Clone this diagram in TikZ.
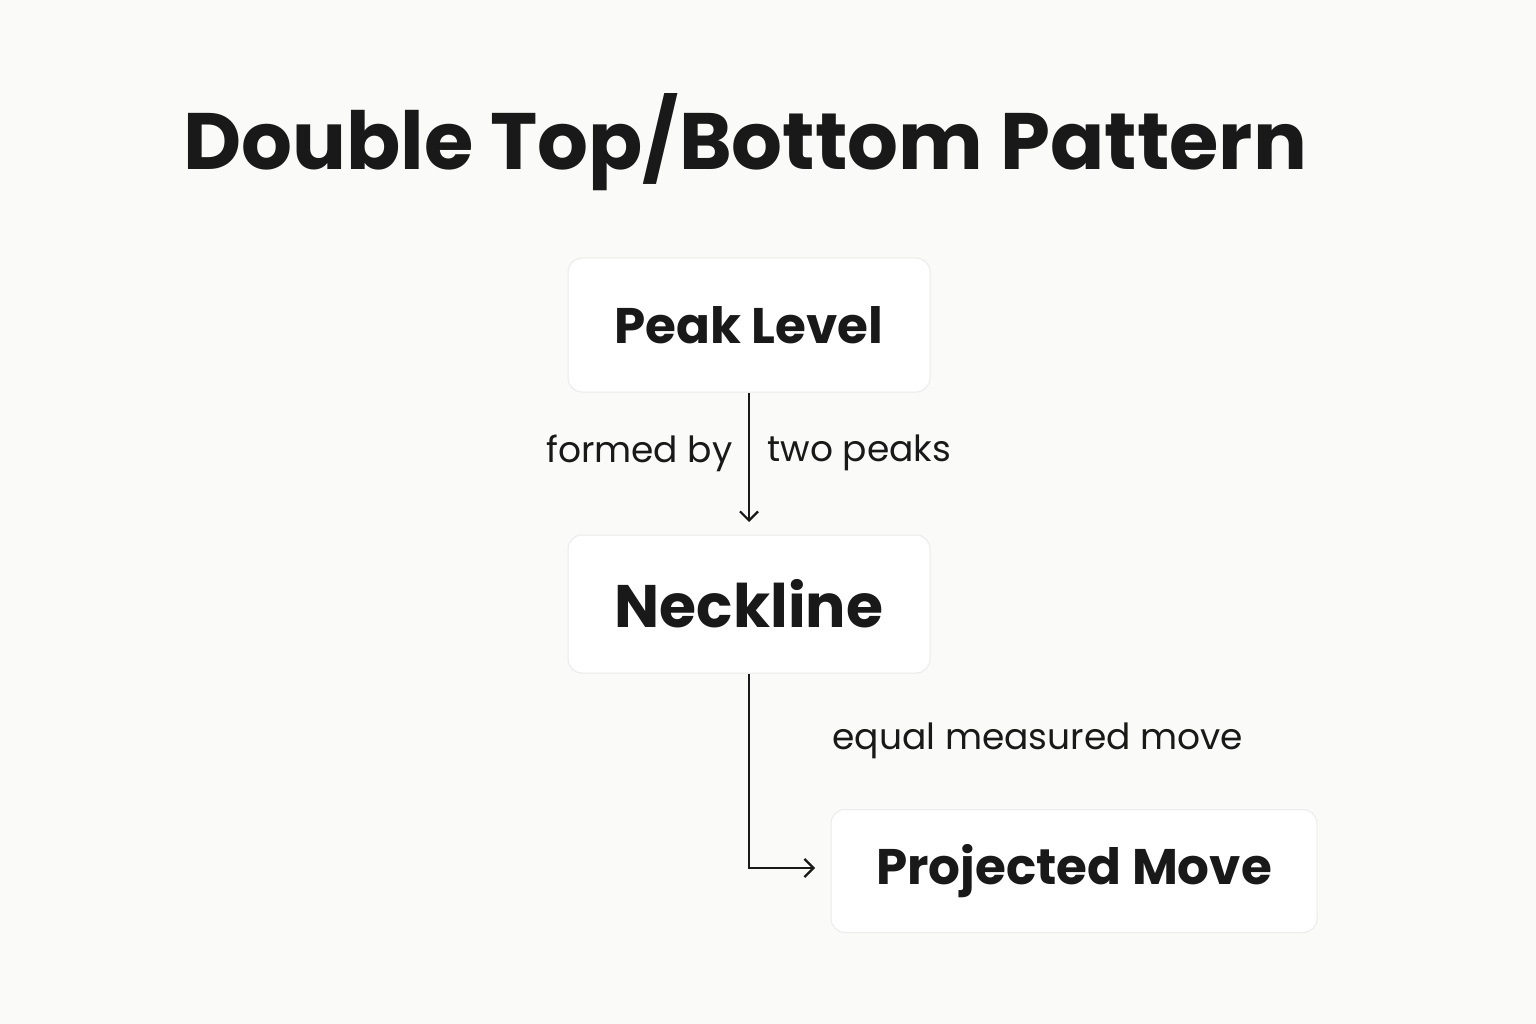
\documentclass[tikz,border=0pt]{standalone}
\usepackage{fontspec}
\setmainfont{Poppins}
\usetikzlibrary{arrows.meta}
\begin{document}
\begin{tikzpicture}[x=1pt,y=-1pt,
  box/.style={draw=black!8,fill=white,rounded corners=14pt,line width=1pt},
  conn/.style={line width=2.2pt,draw=black!90,-{Straight Barb[length=9pt,width=18pt,line width=2.2pt]}},
  lbl/.style={font=\fontsize{36}{40}\selectfont,text=black!90}]
\useasboundingbox[fill={rgb,255:red,250;green,250;blue,248}] (0,0) rectangle (1536,1024);
\node[font=\fontsize{80}{90}\selectfont\bfseries,text=black!90] (title) at (745,142) {Double Top/Bottom Pattern};
\node[box,minimum width=362pt,minimum height=134pt] (peak) at (749,325) {};
\node[font=\fontsize{50}{56}\selectfont\bfseries,text=black!90] (peakt) at (749,325) {Peak Level};
\node[box,minimum width=362pt,minimum height=138pt] (neck) at (749,604) {};
\node[font=\fontsize{60}{66}\selectfont\bfseries,text=black!90] (neckt) at (749,604) {Neckline};
\node[box,minimum width=486pt,minimum height=123pt] (proj) at (1074,871) {};
\node[font=\fontsize{50}{56}\selectfont\bfseries,text=black!90] (projt) at (1074,871) {Projected Move};
\node[lbl,anchor=east] (l1) at (736,453) {formed by};
\node[lbl,anchor=west] (l2) at (764,453) {two peaks};
\node[lbl,anchor=west] (l3) at (829,741) {equal measured move};
\coordinate (c1) at (749,522);
\coordinate (c2) at (749,868);
\coordinate (c3) at (815,868);
\draw[conn] (peak.south) -- (c1);
\draw[conn] (neck.south) -- (c2) -- (c3);
\end{tikzpicture}
\end{document}
